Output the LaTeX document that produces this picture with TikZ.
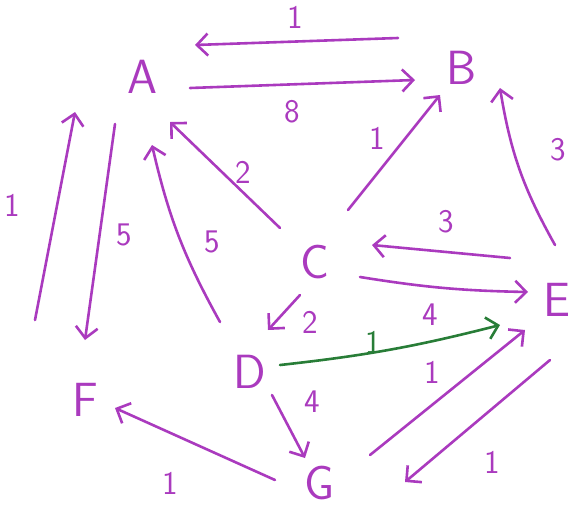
\documentclass[tikz,border=0pt]{standalone}
\usetikzlibrary{arrows.meta}
\definecolor{pur}{RGB}{170,58,190}
\definecolor{grn}{RGB}{40,125,55}
\begin{document}
\begin{tikzpicture}[x=1pt,y=-1pt,
  vtx/.style={text=pur,font=\sffamily\fontsize{48}{48}\selectfont,inner sep=0pt},
  lbl/.style={text=pur,font=\sffamily\fontsize{33}{33}\selectfont,inner sep=0pt},
  glbl/.style={lbl,text=grn},
  e/.style={draw=pur,line width=2.6pt,line cap=round,-{Straight Barb[length=11pt,width=22pt,line width=2.6pt]}},
  ge/.style={e,draw=grn}]
\useasboundingbox (0,0) rectangle (572,512);
\node[vtx] (A) at (142,77) {A};
\node[vtx] (B) at (462,68) {B};
\node[vtx] (C) at (315,262) {C};
\node[vtx] (D) at (250,372) {D};
\node[vtx] (E) at (557,300) {E};
\node[vtx] (F) at (85,400) {F};
\node[vtx] (G) at (320,483) {G};
% edges
\draw[e] ([shift={(-64,-30)}]B.center) -- ([shift={(53,-32)}]A.center);
\draw[e] ([shift={(48,11)}]A.center) -- ([shift={(-47,12)}]B.center);
\draw[e] ([shift={(-50,-80)}]F.center) -- ([shift={(-67,35)}]A.center);
\draw[e] ([shift={(-27,47)}]A.center) -- ([shift={(0,-60)}]F.center);
\draw[e] ([shift={(-30,-50)}]D.center) to[bend left=8] ([shift={(10,68)}]A.center);
\draw[e] ([shift={(-35,-34)}]C.center) -- ([shift={(28,45)}]A.center);
\draw[e] ([shift={(33,-52)}]C.center) -- ([shift={(-22,27)}]B.center);
\draw[e] ([shift={(-2,-55)}]E.center) to[bend left=10] ([shift={(38,20)}]B.center);
\draw[e] ([shift={(-47,-42)}]E.center) -- ([shift={(57,-17)}]C.center);
\draw[e] ([shift={(45,15)}]C.center) to[bend right=4] ([shift={(-29,-8)}]E.center);
\draw[e] ([shift={(-15,33)}]C.center) -- ([shift={(18,-42)}]D.center);
\draw[ge] ([shift={(30,-7)}]D.center) to[bend right=4] ([shift={(-57,25)}]E.center);
\draw[e] ([shift={(50,-28)}]G.center) -- ([shift={(-32,30)}]E.center);
\draw[e] ([shift={(-7,60)}]E.center) -- ([shift={(85,-1)}]G.center);
\draw[e] ([shift={(22,23)}]D.center) -- ([shift={(-15,-25)}]G.center);
\draw[e] ([shift={(-45,-3)}]G.center) -- ([shift={(30,8)}]F.center);
% labels
\node[lbl] (lBA) at (295,17) {1};
\node[lbl] (lAB) at (292,112) {8};
\node[lbl] (lFA) at (12,205) {1};
\node[lbl] (lAF) at (124,235) {5};
\node[lbl] (lDA) at (212,242) {5};
\node[lbl] (lCA) at (243,172) {2};
\node[lbl] (lCB) at (377,138) {1};
\node[lbl] (lEB) at (558,150) {3};
\node[lbl] (lEC) at (446,222) {3};
\node[lbl] (lCE) at (430,315) {4};
\node[lbl] (lCD) at (310,322) {2};
\node[glbl] (lDE) at (373,342) {1};
\node[lbl] (lGE) at (432,372) {1};
\node[lbl] (lEG) at (492,462) {1};
\node[lbl] (lDG) at (312,402) {4};
\node[lbl] (lGF) at (170,483) {1};
\end{tikzpicture}
\end{document}
